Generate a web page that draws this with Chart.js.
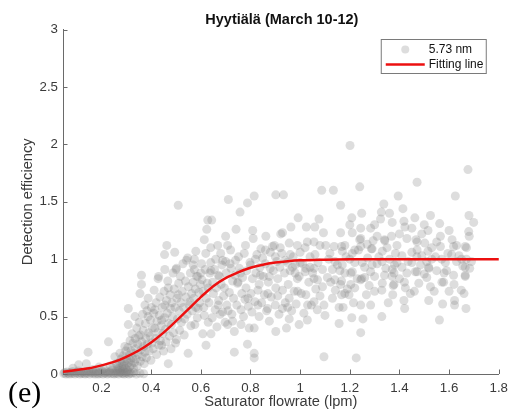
<!DOCTYPE html>
<html>
<head>
<meta charset="utf-8">
<title>Detection efficiency vs saturator flowrate</title>
<script src="https://cdn.jsdelivr.net/npm/chart.js@4.4.1/dist/chart.umd.min.js"></script>
<style>
  html, body { margin: 0; padding: 0; background: #fff; }
</style>
</head>
<body>
<canvas id="effChart" width="514" height="420"></canvas>
<script>
// measured efficiencies, [flowrate lpm, detection efficiency], split by flowrate range
var nearZero = [
  [0.048,0.004],[0.052,0.012],[0.057,0.0],[0.061,0.018],[0.066,0.006],[0.071,0.0],[0.075,0.014],[0.08,0.003],
  [0.084,0.022],[0.089,0.008],[0.093,0.0],[0.098,0.016],[0.103,0.005],[0.107,0.026],[0.112,0.0],[0.116,0.011],
  [0.121,0.003],[0.125,0.02],[0.13,0.007],[0.134,0.0],[0.139,0.015],[0.143,0.004],[0.148,0.025],[0.152,0.0],
  [0.157,0.01],[0.161,0.018],[0.166,0.002],[0.17,0.012],[0.175,0.0],[0.179,0.022],[0.184,0.006],[0.188,0.0],
  [0.193,0.016],[0.197,0.004],[0.202,0.028],[0.206,0.0],[0.211,0.012],[0.215,0.005],[0.22,0.02],[0.224,0.0],
  [0.229,0.009],[0.233,0.017],[0.238,0.002],[0.242,0.03],[0.247,0.007],[0.251,0.0],[0.256,0.014],[0.26,0.004],
  [0.265,0.024],[0.269,0.0],[0.274,0.01],[0.278,0.018],[0.283,0.003],[0.287,0.008],[0.292,0.0],[0.296,0.015],
  [0.301,0.005],[0.305,0.02],[0.31,0.0],[0.315,0.01],[0.32,0.004],[0.33,0.012],[0.34,0.0],[0.355,0.006],[0.37,0.002]
];
var lowFlow = [
  [0.085,0.05],[0.108,0.08],[0.139,0.09],[0.146,0.19],[0.165,0.04],[0.19,0.06],[0.21,0.045],[0.228,0.28],
  [0.235,0.07],[0.254,0.15],[0.245,0.05],[0.26,0.09]
];
var risingFlow = [
  [0.262,0.035],[0.266,0.07],[0.27,0.05],[0.273,0.1],[0.274,0.18],[0.276,0.03],[0.279,0.13],[0.281,0.06],
  [0.283,0.09],[0.286,0.04],[0.288,0.16],[0.29,0.07],[0.292,0.11],[0.294,0.24],[0.296,0.05],[0.298,0.2],
  [0.3,0.08],[0.302,0.13],[0.304,0.035],[0.306,0.23],[0.308,0.43],[0.308,0.57],[0.309,0.1],[0.311,0.16],
  [0.313,0.06],[0.315,0.29],[0.317,0.12],[0.319,0.2],[0.321,0.08],[0.323,0.35],[0.325,0.14],[0.327,0.27],
  [0.329,0.05],[0.331,0.18],[0.333,0.1],[0.335,0.5],[0.336,0.31],[0.338,0.22],[0.34,0.13],[0.342,0.4],
  [0.344,0.07],[0.346,0.26],[0.348,0.17],[0.35,0.33],[0.352,0.45],[0.355,0.7],[0.356,0.11],[0.357,0.34],
  [0.359,0.21],[0.361,0.86],[0.361,0.78],[0.362,0.28],[0.364,0.15],[0.366,0.52],[0.368,0.38],[0.37,0.24],
  [0.372,0.09],[0.375,0.19],[0.375,0.6],[0.377,0.44],[0.379,0.31],[0.381,0.14],[0.383,0.55],[0.385,0.26],
  [0.388,0.5],[0.388,0.66],[0.39,0.36],[0.392,0.2],[0.395,0.33],[0.397,0.47],[0.399,0.12],[0.401,0.58],
  [0.403,0.27],[0.405,0.4],[0.408,0.22],[0.41,0.53],[0.412,0.73],[0.415,0.4],[0.415,0.56],[0.418,0.31],
  [0.42,0.62],[0.422,0.17],[0.424,0.46],[0.426,0.36],[0.428,0.83],[0.43,0.85],[0.431,0.25],[0.433,0.51],
  [0.435,0.67],[0.437,0.29],[0.44,0.42],[0.442,0.25],[0.442,0.47],[0.445,0.58],[0.447,0.35],[0.45,0.2],
  [0.452,0.72],[0.454,0.49],[0.455,0.6],[0.455,0.91],[0.458,0.39],[0.46,0.28],[0.462,0.64],[0.463,1.12],
  [0.454,1.04],[0.465,0.53],[0.467,0.81],[0.469,0.09],[0.469,0.75],[0.471,0.44],[0.474,0.33],[0.476,0.69],
  [0.478,0.57],[0.48,0.22],[0.482,0.43],[0.484,0.62],[0.486,0.5],[0.488,0.88],[0.49,0.36],[0.493,0.74],
  [0.495,1.06],[0.496,0.58],[0.498,0.27],[0.5,0.91],[0.502,0.3],[0.502,0.92],[0.504,0.66],[0.506,0.48],
  [0.509,0.69],[0.509,1.47],[0.511,0.79],[0.513,0.55],[0.515,0.38],[0.518,0.85],[0.52,0.62],[0.522,0.45],
  [0.525,0.72],[0.528,0.96],[0.53,0.58],[0.533,0.34],[0.535,0.48],[0.538,0.81],[0.54,0.67],[0.542,0.99],
  [0.545,0.52],[0.547,1.01],[0.549,0.18],[0.55,0.76],[0.553,0.6],[0.556,0.63],[0.558,0.88],[0.56,0.42],
  [0.563,0.7],[0.566,0.55],[0.569,0.8],[0.569,0.95],[0.572,0.66],[0.574,0.91],[0.574,1.0],[0.576,0.43],
  [0.578,0.74],[0.58,0.58],[0.583,0.85],[0.586,0.49],[0.588,0.85],[0.589,0.57],[0.592,0.71],[0.595,0.62],
  [0.598,0.78],[0.58,1.07],[0.6,0.88]
];
var midFlow = [
  [0.603,0.96],[0.605,0.82],[0.608,0.35],[0.61,0.72],[0.612,0.58],[0.614,0.51],[0.614,1.17],[0.618,0.91],
  [0.621,0.25],[0.622,0.66],[0.624,1.26],[0.626,0.79],[0.628,1.34],[0.63,0.45],[0.633,0.62],[0.636,0.88],
  [0.641,0.9],[0.641,0.35],[0.644,1.34],[0.646,0.49],[0.648,0.8],[0.651,0.7],[0.655,0.91],[0.658,0.56],
  [0.662,0.75],[0.665,0.41],[0.668,1.12],[0.67,0.86],[0.672,0.64],[0.675,0.85],[0.678,0.52],[0.682,0.78],
  [0.685,0.95],[0.688,0.54],[0.688,0.99],[0.692,0.68],[0.695,0.75],[0.698,0.45],[0.702,0.88],[0.705,0.6],
  [0.708,0.43],[0.708,1.12],[0.711,1.52],[0.715,0.71],[0.718,0.96],[0.722,0.92],[0.725,0.52],[0.728,0.46],
  [0.728,0.81],[0.732,0.66],[0.735,0.19],[0.735,0.37],[0.738,0.86],[0.742,1.26],[0.745,0.6],[0.748,0.79],
  [0.752,1.02],[0.755,0.92],[0.758,1.41],[0.762,0.43],[0.762,0.56],[0.765,0.7],[0.768,0.84],[0.772,0.5],
  [0.775,1.05],[0.778,0.65],[0.782,0.75],[0.785,0.9],[0.788,0.26],[0.788,1.49],[0.792,0.59],[0.795,0.4],
  [0.798,0.97],[0.802,0.7],[0.806,0.54],[0.808,0.83],[0.809,1.25],[0.811,1.18],[0.815,0.18],[0.815,0.14],
  [0.815,0.4],[0.815,1.55],[0.818,0.63],[0.822,0.88],[0.826,1.04],[0.83,0.73],[0.835,0.5],[0.835,0.78],
  [0.838,0.93],[0.842,1.09],[0.845,0.62],[0.849,1.01],[0.852,0.85],[0.856,0.69],[0.86,0.96],[0.862,1.2],
  [0.865,0.55],[0.869,0.57],[0.872,0.8],[0.876,0.46],[0.876,0.85],[0.88,1.06],[0.884,0.67],[0.889,1.11],
  [0.892,0.9],[0.896,1.12],[0.9,0.6],[0.902,0.37],[0.902,0.75],[0.902,1.56],[0.906,0.98],[0.91,0.83],
  [0.915,0.52],[0.918,0.93],[0.922,1.22],[0.926,1.05],[0.929,0.57],[0.929,0.73],[0.929,1.23],[0.933,1.56],
  [0.937,0.88],[0.94,0.62],[0.945,0.4],[0.948,0.97],[0.952,0.78],[0.956,0.48],[0.956,0.66],[0.956,1.14],
  [0.96,0.9],[0.963,1.28],[0.966,0.55],[0.969,0.93],[0.972,1.02],[0.976,0.72],[0.98,0.95],[0.984,0.61],
  [0.989,0.83],[0.989,1.12],[0.992,1.36],[0.996,0.43],[0.996,0.85],[1.0,1.06],[1.005,0.7],[1.01,0.96],
  [1.015,0.53],[1.02,0.89],[1.023,0.69],[1.023,0.92],[1.025,1.28],[1.029,0.47],[1.029,1.15],[1.035,0.8],
  [1.04,1.02],[1.045,0.6],[1.05,0.88],[1.056,0.63],[1.056,0.83],[1.056,0.92],[1.056,1.15],[1.059,1.28],
  [1.063,0.74],[1.069,0.56],[1.072,0.97],[1.076,1.35],[1.08,0.68],[1.087,1.6],[1.09,0.76],[1.09,0.91],
  [1.094,1.23],[1.096,0.6],[1.096,0.15],[1.1,0.51],[1.103,1.12],
  [0.62,1.05],[0.64,0.97],[0.66,1.0],[0.68,1.05],[0.7,0.98],[0.72,1.08],[0.74,0.99],[0.76,0.88],
  [0.78,1.12],[0.8,0.95],[0.82,1.0],[0.84,0.86],[0.86,1.08],[0.88,0.92],[0.9,1.02],[0.92,1.1],
  [0.94,0.99],[0.96,1.04],[0.98,0.88],[1.0,0.97],[1.02,1.1],[1.04,0.93],[1.06,1.04],[1.08,1.12],
  [0.63,0.75],[0.67,0.6],[0.71,0.55],[0.75,0.8],[0.79,0.66],[0.83,0.6],[0.87,0.7],[0.91,0.68],
  [0.95,0.58],[0.99,0.72],[1.03,0.6],[1.07,0.82],[0.64,1.1],[0.7,1.2]
];
var highFlow = [
  [1.11,0.84],[1.115,1.0],[1.123,0.8],[1.13,0.66],[1.13,0.91],[1.134,1.6],[1.137,1.11],[1.142,0.73],
  [1.15,0.95],[1.157,0.44],[1.157,0.58],[1.163,0.78],[1.163,1.23],[1.163,1.47],[1.167,0.69],[1.167,0.81],
  [1.167,1.11],[1.17,0.95],[1.17,1.07],[1.173,0.58],[1.18,0.88],[1.185,1.02],[1.19,0.74],[1.197,0.69],
  [1.201,1.99],[1.204,0.78],[1.204,0.88],[1.208,0.49],[1.208,1.36],[1.21,0.89],[1.21,1.05],[1.21,1.23],
  [1.215,0.62],[1.22,0.97],[1.226,0.14],[1.23,0.83],[1.235,1.08],[1.24,1.17],[1.24,1.63],[1.244,0.36],
  [1.244,0.6],[1.244,0.82],[1.244,1.11],[1.244,1.18],[1.244,1.27],[1.248,0.83],[1.248,1.4],[1.253,0.48],
  [1.26,0.93],[1.267,0.69],[1.272,1.01],[1.278,0.77],[1.284,0.6],[1.284,0.89],[1.284,1.27],[1.287,1.09],
  [1.29,1.09],[1.294,1.16],[1.3,0.85],[1.31,0.96],[1.317,1.02],[1.324,1.35],[1.327,1.41],[1.329,0.5],
  [1.329,0.73],[1.331,0.79],[1.331,1.07],[1.337,1.48],[1.34,1.17],[1.341,1.16],[1.345,0.92],[1.355,0.62],
  [1.36,1.0],[1.368,1.2],[1.371,0.91],[1.371,1.32],[1.373,0.69],[1.375,0.77],[1.378,0.78],[1.378,0.88],
  [1.384,1.05],[1.39,0.97],[1.395,1.55],[1.4,0.83],[1.41,1.03],[1.414,1.44],[1.418,0.64],[1.418,1.33],
  [1.421,0.57],[1.422,1.28],[1.424,0.75],[1.43,0.88],[1.435,0.98],[1.444,0.7],[1.45,1.06],[1.462,1.36],
  [1.464,0.89],[1.467,1.17],[1.471,0.89],[1.471,1.08],[1.471,1.15],[1.471,1.67],[1.478,0.79],[1.485,0.95],
  [1.49,1.03],[1.502,1.14],[1.51,0.84],[1.515,1.07],[1.515,1.25],[1.518,0.64],[1.518,0.92],[1.518,0.93],
  [1.525,0.76],[1.525,1.38],[1.53,1.0],[1.545,1.02],[1.55,0.9],[1.561,0.47],[1.562,1.31],[1.565,1.11],
  [1.565,1.2],[1.571,0.8],[1.574,0.61],[1.578,0.8],[1.585,0.97],[1.595,1.05],[1.6,0.72],[1.612,1.17],
  [1.618,0.86],[1.618,1.11],[1.622,0.6],[1.622,0.64],[1.625,1.55],[1.63,0.98],[1.64,1.03],[1.649,0.73],
  [1.655,0.94],[1.665,0.85],[1.665,0.86],[1.665,0.93],[1.665,1.11],[1.668,0.57],[1.67,1.0],[1.676,1.78],
  [1.679,1.24],[1.681,1.2],[1.683,0.92],[1.699,1.32],
  [1.12,1.05],[1.14,0.98],[1.16,0.9],[1.18,1.12],[1.2,1.0],[1.22,1.08],[1.25,0.97],[1.27,1.13],
  [1.29,0.95],[1.31,1.2],[1.33,0.98],[1.35,1.1],[1.37,0.85],[1.39,1.12],[1.41,0.93],[1.43,1.18],
  [1.45,0.97],[1.47,1.02],[1.49,1.22],[1.51,0.98],[1.53,1.1],[1.55,1.15],[1.57,1.0],[1.59,0.9],
  [1.61,1.04],[1.63,1.12],[1.65,1.0],[1.67,1.1],[1.69,0.98],[1.14,0.82],[1.18,0.7],[1.22,0.75],
  [1.26,0.84],[1.3,0.72],[1.34,0.86],[1.38,0.95],[1.42,0.8],[1.46,0.72],[1.5,0.87],[1.54,0.72],
  [1.58,0.88],[1.62,0.78],[1.66,0.7],[1.2,1.3],[1.3,1.3],[1.4,1.22],[1.5,1.3],[1.6,1.25],
  [1.68,1.38],[1.36,1.4],[1.45,1.27]
];

// fitted curve, sampled along the flowrate axis
var fitFlow = [0.045,0.1,0.15,0.2,0.25,0.3,0.35,0.4,0.45,0.5,0.55,0.6,0.65,0.7,0.75,0.8,0.85,0.9,0.95,1.0,1.1,1.2,1.4,1.6,1.8];
var fitEff  = [0.02,0.035,0.05,0.075,0.105,0.15,0.205,0.275,0.36,0.46,0.565,0.67,0.765,0.835,0.885,0.925,0.952,0.97,0.982,0.99,0.996,0.999,1.0,1.0,1.0];

var xTickVals = [0.2,0.4,0.6,0.8,1,1.2,1.4,1.6,1.8];
var xTickLabels = ['0.2','0.4','0.6','0.8','1','1.2','1.4','1.6','1.8'];
var yTickVals = [0,0.5,1,1.5,2,2.5,3];
var yTickLabels = ['0','0.5','1','1.5','2','2.5','3'];

var sans = "'Liberation Sans', Arial, Helvetica, sans-serif";
var axisColor = '#6a6a6a';
var textColor = '#3a3a3a';
var dotColor = 'rgba(128,128,128,0.27)';
var fitColor = 'rgb(236,16,16)';

var scatterData = [];
[nearZero, lowFlow, risingFlow, midFlow, highFlow].forEach(function(group){
  group.forEach(function(p){ scatterData.push({x: p[0], y: p[1]}); });
});
var fitData = fitFlow.map(function(v, i){ return {x: v, y: fitEff[i]}; });

// inward tick marks, title, boxed legend and panel letter
var decorPlugin = {
  id: 'decor',
  afterDraw: function(chart){
    var ctx = chart.ctx, xs = chart.scales.x, ys = chart.scales.y, area = chart.chartArea;
    ctx.save();
    ctx.strokeStyle = axisColor;
    ctx.lineWidth = 1;
    ctx.beginPath();
    xTickVals.forEach(function(v){
      var px = Math.round(xs.getPixelForValue(v)) + 0.5;
      ctx.moveTo(px, area.bottom);
      ctx.lineTo(px, area.bottom - 4.5);
    });
    yTickVals.forEach(function(v){
      var py = Math.round(ys.getPixelForValue(v)) + 0.5;
      ctx.moveTo(area.left, py);
      ctx.lineTo(area.left + 4.5, py);
    });
    ctx.stroke();

    // title
    ctx.fillStyle = '#111';
    ctx.font = 'bold 14.5px ' + sans;
    ctx.textAlign = 'center';
    ctx.textBaseline = 'middle';
    ctx.fillText('Hyytiälä (March 10-12)', (area.left + area.right) / 2 + 1, 20);

    // legend
    var lx = area.right - 117.5, ly = area.top + 10, lw = 105, lh = 34;
    ctx.fillStyle = '#fff';
    ctx.fillRect(lx, ly, lw, lh);
    ctx.strokeStyle = '#7a7a7a';
    ctx.strokeRect(lx, ly, lw, lh);
    ctx.fillStyle = dotColor;
    ctx.beginPath();
    ctx.arc(lx + 24, ly + 10, 4, 0, Math.PI * 2);
    ctx.fill();
    ctx.strokeStyle = fitColor;
    ctx.lineWidth = 2.5;
    ctx.beginPath();
    ctx.moveTo(lx + 4.5, ly + 25);
    ctx.lineTo(lx + 43.5, ly + 25);
    ctx.stroke();
    ctx.fillStyle = '#111';
    ctx.font = '12px ' + sans;
    ctx.textAlign = 'left';
    ctx.fillText('5.73 nm', lx + 47.5, ly + 10);
    ctx.fillText('Fitting line', lx + 47.5, ly + 25);

    // panel letter
    ctx.font = '30px "Liberation Serif", "Times New Roman", serif';
    ctx.textBaseline = 'alphabetic';
    ctx.fillStyle = '#000';
    ctx.fillText('(e)', 8, 402);
    ctx.restore();
  }
};

var ctx = document.getElementById('effChart');
var effChart = new Chart(ctx, {
  type: 'scatter',
  data: {
    datasets: [
      {
        label: 'Fitting line',
        type: 'line',
        data: fitData,
        borderColor: fitColor,
        borderWidth: 2.5,
        pointRadius: 0,
        fill: false,
        cubicInterpolationMode: 'monotone',
        clip: false,
        order: 0
      },
      {
        label: '5.73 nm',
        data: scatterData,
        backgroundColor: dotColor,
        borderWidth: 0,
        pointRadius: 4.5,
        clip: false,
        order: 1
      }
    ]
  },
  options: {
    responsive: false,
    animation: false,
    events: [],
    layout: { padding: { top: 29.5, right: 14, left: 0, bottom: 0 } },
    plugins: {
      legend: { display: false },
      title: { display: false },
      tooltip: { enabled: false }
    },
    scales: {
      x: {
        type: 'linear',
        min: 0.045,
        max: 1.8,
        afterBuildTicks: function(scale){
          scale.ticks = xTickVals.map(function(v){ return {value: v}; });
        },
        afterFit: function(scale){ scale.height = 46; },
        grid: { display: false, drawTicks: false },
        border: { display: true, color: axisColor, width: 1 },
        ticks: {
          autoSkip: false,
          maxRotation: 0,
          padding: 6,
          color: textColor,
          font: { family: sans, size: 13.3 },
          callback: function(v, i){ return xTickLabels[i]; }
        },
        title: {
          display: true,
          text: 'Saturator flowrate (lpm)',
          color: textColor,
          font: { family: sans, size: 14.67 },
          padding: { top: 0, bottom: 9 }
        }
      },
      y: {
        type: 'linear',
        min: 0,
        max: 3,
        afterBuildTicks: function(scale){
          scale.ticks = yTickVals.map(function(v){ return {value: v}; });
        },
        afterFit: function(scale){ scale.width = 63; },
        grid: { display: false, drawTicks: false },
        border: { display: true, color: axisColor, width: 1 },
        ticks: {
          autoSkip: false,
          padding: 5,
          color: textColor,
          font: { family: sans, size: 13.3 },
          callback: function(v, i){ return yTickLabels[i]; }
        },
        title: {
          display: true,
          text: 'Detection efficiency',
          color: textColor,
          font: { family: sans, size: 14.67 },
          padding: { top: 19, bottom: 0 }
        }
      }
    }
  },
  plugins: [decorPlugin]
});
</script>
</body>
</html>
